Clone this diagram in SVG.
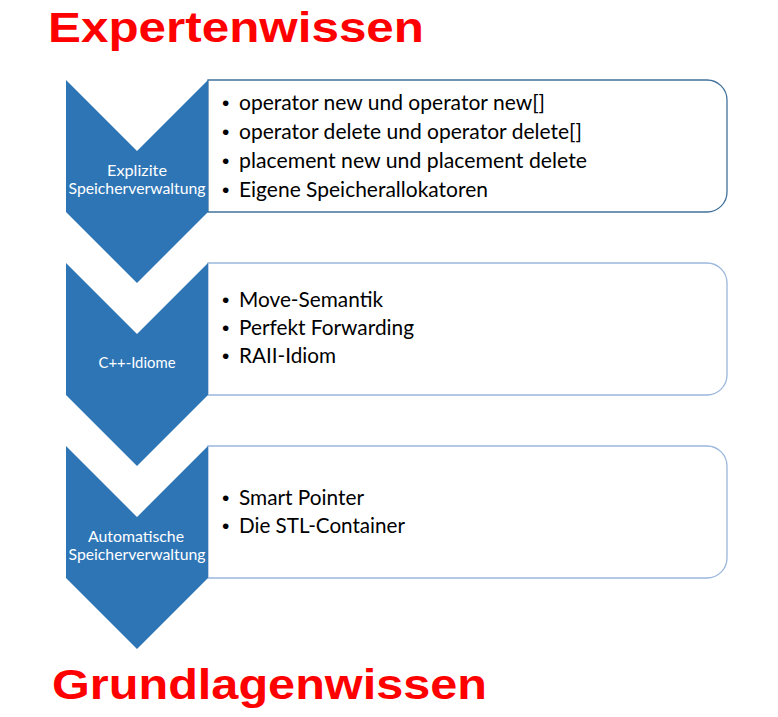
<svg xmlns="http://www.w3.org/2000/svg" width="778" height="717" viewBox="0 0 778 717">
<style>
.title{font-family:"Liberation Sans",Arial,sans-serif;font-weight:bold;fill:#ff0000;}
.chev{fill:#2e75b6;}
.box{fill:#ffffff;stroke-width:1.3;}
.b1{stroke:#41719c;}
.b2{stroke:#9ab7dc;}
.lbl{font-family:Lato,"Open Sans",sans-serif;font-size:15px;fill:#ffffff;text-anchor:middle;}
.txt{font-family:Lato,"Open Sans",sans-serif;font-size:20.5px;fill:#000000;}
.bul{font-family:"Liberation Sans",Arial,sans-serif;font-size:21px;fill:#000000;}
</style>
<rect width="778" height="717" fill="#ffffff"/>
<text class="title" x="48" y="42" font-size="42" textLength="376" lengthAdjust="spacingAndGlyphs">Expertenwissen</text>
<text class="title" x="52" y="699" font-size="43" textLength="435" lengthAdjust="spacingAndGlyphs">Grundlagenwissen</text>
<g id="connectors"></g>
<g id="node1">
<path class="box b1" d="M208,80 H707 A20,20 0 0 1 727,100 V192 A20,20 0 0 1 707,212 H208 Z"/>
<path class="chev" d="M66,80 L137,151 L208,80 L208,212 L137,283 L66,212 Z"/>
<text class="lbl" x="137" y="176" textLength="60" lengthAdjust="spacingAndGlyphs">Explizite</text>
<text class="lbl" x="137" y="194" textLength="137" lengthAdjust="spacingAndGlyphs">Speicherverwaltung</text>
<text class="bul" x="222" y="110">•</text><text class="txt" x="239" y="110" textLength="306" lengthAdjust="spacingAndGlyphs">operator new und operator new[]</text>
<text class="bul" x="222" y="139">•</text><text class="txt" x="239" y="139" textLength="343" lengthAdjust="spacingAndGlyphs">operator delete und operator delete[]</text>
<text class="bul" x="222" y="168">•</text><text class="txt" x="239" y="168" textLength="348" lengthAdjust="spacingAndGlyphs">placement new und placement delete</text>
<text class="bul" x="222" y="197">•</text><text class="txt" x="239" y="197" textLength="249" lengthAdjust="spacingAndGlyphs">Eigene Speicherallokatoren</text>
</g>
<g id="node2">
<path class="box b2" d="M208,263 H707 A20,20 0 0 1 727,283 V375 A20,20 0 0 1 707,395 H208 Z"/>
<path class="chev" d="M66,263 L137,334 L208,263 L208,395 L137,466 L66,395 Z"/>
<text class="lbl" x="137" y="368" textLength="77" lengthAdjust="spacingAndGlyphs">C++-Idiome</text>
<text class="bul" x="222" y="307">•</text><text class="txt" x="239" y="307" textLength="144" lengthAdjust="spacingAndGlyphs">Move-Semantik</text>
<text class="bul" x="222" y="335">•</text><text class="txt" x="239" y="335" textLength="175" lengthAdjust="spacingAndGlyphs">Perfekt Forwarding</text>
<text class="bul" x="222" y="363">•</text><text class="txt" x="239" y="363" textLength="97" lengthAdjust="spacingAndGlyphs">RAII-Idiom</text>
</g>
<g id="node3">
<path class="box b2" d="M208,446 H707 A20,20 0 0 1 727,466 V558 A20,20 0 0 1 707,578 H208 Z"/>
<path class="chev" d="M66,446 L137,517 L208,446 L208,578 L137,649 L66,578 Z"/>
<text class="lbl" x="136" y="542" textLength="96" lengthAdjust="spacingAndGlyphs">Automatische</text>
<text class="lbl" x="137" y="560" textLength="137" lengthAdjust="spacingAndGlyphs">Speicherverwaltung</text>
<text class="bul" x="222" y="505">•</text><text class="txt" x="239" y="505" textLength="125" lengthAdjust="spacingAndGlyphs">Smart Pointer</text>
<text class="bul" x="222" y="533">•</text><text class="txt" x="239" y="533" textLength="166" lengthAdjust="spacingAndGlyphs">Die STL-Container</text>
</g>
</svg>
